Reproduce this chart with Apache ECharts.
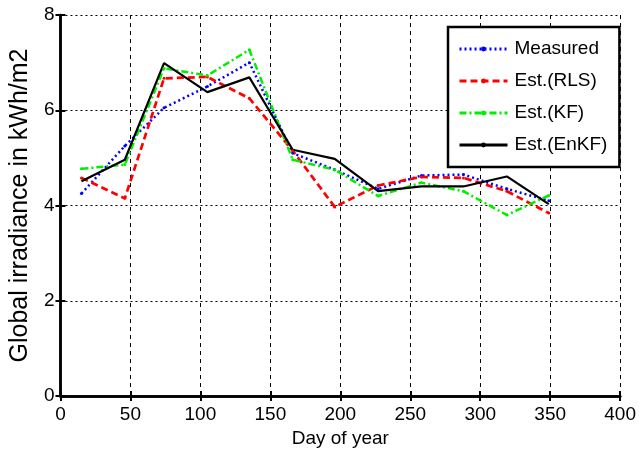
<!DOCTYPE html>
<html>
<head>
<meta charset="utf-8">
<script src="https://cdn.jsdelivr.net/npm/echarts@6/dist/echarts.min.js"></script>
<style>
html,body{margin:0;padding:0;background:#fff;}
#c{width:639px;height:466px;}
</style>
</head>
<body>
<div id="c"></div>
<script>
var days = [15, 46, 74, 105, 135, 166, 196, 227, 258, 288, 319, 349];
var measured = [4.25, 5.25, 6.05, 6.50, 7.00, 5.10, 4.75, 4.35, 4.63, 4.65, 4.35, 4.10];
var estRLS = [4.58, 4.15, 6.67, 6.70, 6.25, 5.15, 3.97, 4.42, 4.60, 4.58, 4.30, 3.84];
var estKF = [4.77, 4.86, 6.88, 6.73, 7.27, 4.96, 4.75, 4.20, 4.48, 4.30, 3.80, 4.21];
var estEnKF = [4.51, 4.96, 6.99, 6.38, 6.69, 5.17, 4.98, 4.30, 4.40, 4.40, 4.61, 4.03];
var seriesNames = ['Measured', 'Est.(RLS)', 'Est.(KF)', 'Est.(EnKF)'];
var xTicks = [0, 50, 100, 150, 200, 250, 300, 350, 400];
var yTicks = [0, 2, 4, 6, 8];

function pairs(v) { return days.map(function (d, i) { return [d, v[i]]; }); }

var FONT = "'Liberation Sans',Arial,Helvetica,sans-serif";
var chart = echarts.init(document.getElementById('c'), null, {renderer: 'canvas'});

var baseX = {
  type: 'value', min: xTicks[0], max: xTicks[xTicks.length - 1], interval: 50
};
var baseY = {
  type: 'value', min: yTicks[0], max: yTicks[yTicks.length - 1], interval: 2
};

var option = {
  backgroundColor: '#fff',
  animation: false,
  grid: {left: 54, right: 17, top: 15, bottom: 70, containLabel: false},
  legend: {
    orient: 'vertical',
    left: 448, top: 27,
    data: seriesNames,
    backgroundColor: '#fff',
    borderColor: '#000', borderWidth: 2.5, borderRadius: 0,
    padding: [10, 12, 10, 10],
    itemWidth: 48, itemHeight: 6, itemGap: 8,
    lineStyle: {width: 3},
    textStyle: {fontFamily: FONT, fontSize: 19, color: '#000', lineHeight: 24, padding: [0, 0, 0, 2]}
  },
  xAxis: [
    Object.assign({}, baseX, {
      position: 'bottom',
      name: 'Day of year', nameLocation: 'middle', nameGap: 32,
      nameTextStyle: {fontFamily: FONT, fontSize: 19, color: '#000'},
      axisLine: {show: true, lineStyle: {color: '#000', width: 2.5}},
      axisTick: {show: true, inside: true, length: 5, lineStyle: {color: '#000', width: 2}},
      axisLabel: {show: true, margin: 9, fontFamily: FONT, fontSize: 19, color: '#000'},
      splitLine: {show: true, lineStyle: {color: '#000', width: 1, type: [4, 4]}}
    }),
    Object.assign({}, baseX, {
      position: 'top',
      axisLine: {show: true, lineStyle: {color: '#000', width: 2.5}},
      axisTick: {show: true, inside: true, length: 5, lineStyle: {color: '#000', width: 2}},
      axisLabel: {show: false},
      splitLine: {show: false}
    })
  ],
  yAxis: [
    Object.assign({}, baseY, {
      position: 'left',
      name: 'Global irradiance in kWh/m2', nameLocation: 'middle', nameGap: 25,
      nameTextStyle: {fontFamily: FONT, fontSize: 25, color: '#000'},
      axisLine: {show: true, lineStyle: {color: '#000', width: 2.5}},
      axisTick: {show: true, inside: true, length: 5, lineStyle: {color: '#000', width: 2}},
      axisLabel: {show: true, margin: 6, fontFamily: FONT, fontSize: 19, color: '#000'},
      splitLine: {show: true, lineStyle: {color: '#000', width: 1, type: [2, 3]}}
    }),
    Object.assign({}, baseY, {
      position: 'right',
      axisLine: {show: true, lineStyle: {color: '#000', width: 2.5}},
      axisTick: {show: true, inside: true, length: 5, lineStyle: {color: '#000', width: 2}},
      axisLabel: {show: false},
      splitLine: {show: false}
    })
  ],
  series: [
    {
      name: seriesNames[0], type: 'line', data: pairs(measured),
      symbol: 'circle', symbolSize: 3, showSymbol: true,
      itemStyle: {color: '#0000ff'},
      lineStyle: {color: '#0000ff', width: 2.5, type: [2, 3]}
    },
    {
      name: seriesNames[1], type: 'line', data: pairs(estRLS),
      symbol: 'circle', symbolSize: 3, showSymbol: true,
      itemStyle: {color: '#ff0000'},
      lineStyle: {color: '#ff0000', width: 2.7, type: [7, 4]}
    },
    {
      name: seriesNames[2], type: 'line', data: pairs(estKF),
      symbol: 'circle', symbolSize: 3, showSymbol: true,
      itemStyle: {color: '#00ee00'},
      lineStyle: {color: '#00ee00', width: 2.5, type: [7, 3, 2, 3]}
    },
    {
      name: seriesNames[3], type: 'line', data: pairs(estEnKF),
      symbol: 'none', showSymbol: false,
      itemStyle: {color: '#000'},
      lineStyle: {color: '#000', width: 2.2, type: 'solid'}
    }
  ]
};
chart.setOption(option);
</script>
</body>
</html>
